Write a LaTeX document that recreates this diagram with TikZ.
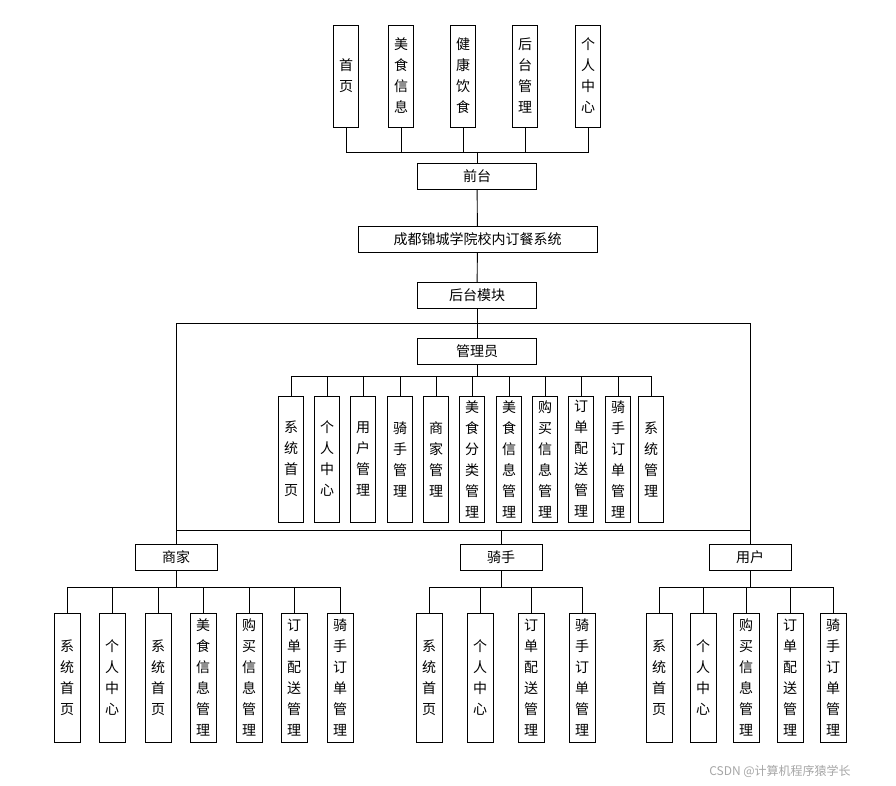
\documentclass[tikz,border=0pt]{standalone}
\usepackage{fontspec}
\setmainfont{Noto Sans CJK SC}
\begin{document}
\begin{tikzpicture}[x=1pt,y=-1pt,
  hb/.style={draw,line width=0.9pt,fill=white,minimum height=26pt,inner sep=0pt,font=\fontsize{14}{16}\selectfont},
  vb/.style={draw,line width=0.9pt,fill=white,minimum width=25pt,inner sep=0pt,align=center,font=\fontsize{14}{21}\selectfont},
  ln/.style={line width=0.9pt}]
\path[fill=white] (0,0) rectangle (896,786);
% top
\foreach \n/\x/\t in {a/346/首\\页,b/401/美\\食\\信\\息,c/463/健\\康\\饮\\食,d/525/后\\台\\管\\理,e/588/个\\人\\中\\心}
  \node[vb,minimum height=102pt] (\n) at (\x,76) {\t};
\node[hb,minimum width=119pt] (qt) at (477,176) {前台};
\coordinate (j1) at (477,152);
\foreach \n in {a,b,c,d,e} \draw[ln] (\n.south) |- (j1);
\draw[ln] (a.south) ++(0,25) -- ++(242,0);
\draw[ln] (j1) -- (qt.north);
\node[hb,minimum width=239pt] (sys) at (477.5,239.5) {成都锦城学院校内订餐系统};
\node[hb,minimum width=119pt] (ht) at (477,295.5) {后台模块};
\draw[ln] (qt) -- (sys); \draw[ln] (sys) -- (ht);
\coordinate (tl) at (176,323); \coordinate (tr) at (750,323);
\coordinate (bl) at (176,530); \coordinate (br) at (750,530);
\draw[ln] (tl) -- (tr); \draw[ln] (ht.south) -- (477,323);
\draw[ln] (tl) -- (bl) -- (br) -- (tr);
\node[hb,minimum width=119pt] (gly) at (477,351) {管理员};
\draw[ln] (477,323) -- (gly.north);
\foreach \n/\x/\t in {g1/291/系\\统\\首\\页,g2/327/个\\人\\中\\心,g3/363/用\\户\\管\\理,g4/400/骑\\手\\管\\理,g5/436/商\\家\\管\\理,g6/472/美\\食\\分\\类\\管\\理,g7/509/美\\食\\信\\息\\管\\理,g8/545/购\\买\\信\\息\\管\\理,g9/581/订\\单\\配\\送\\管\\理,g10/618/骑\\手\\订\\单\\管\\理,g11/651/系\\统\\管\\理}
  {\node[vb,minimum height=126pt] (\n) at (\x,459) {\t};
   \draw[ln] (\n.north) -- (\x,376);}
\draw[ln] (291,376) -- (651,376); \draw[ln] (gly.south) -- (477,376);
\node[hb,minimum width=82pt] (sj) at (176,557) {商家};
\node[hb,minimum width=82pt] (qs) at (501,557) {骑手};
\node[hb,minimum width=82pt] (yh) at (750,557) {用户};
\draw[ln] (bl) -- (sj.north); \draw[ln] (br) -- (yh.north); \draw[ln] (501,530) -- (qs.north);
\foreach \n/\x/\t in {s1/67/系\\统\\首\\页,s2/112/个\\人\\中\\心,s3/158/系\\统\\首\\页,s4/203/美\\食\\信\\息\\管\\理,s5/249/购\\买\\信\\息\\管\\理,s6/294/订\\单\\配\\送\\管\\理,s7/340/骑\\手\\订\\单\\管\\理}
  {\node[vb,minimum height=129pt,minimum width=26pt] (\n) at (\x,677.5) {\t}; \draw[ln] (\n.north) -- (\x,587);}
\draw[ln] (67,587) -- (340,587); \draw[ln] (sj.south) -- (176,587);
\foreach \n/\x/\t in {r1/429/系\\统\\首\\页,r2/480/个\\人\\中\\心,r3/531/订\\单\\配\\送\\管\\理,r4/582/骑\\手\\订\\单\\管\\理}
  {\node[vb,minimum height=129pt,minimum width=26pt] (\n) at (\x,677.5) {\t}; \draw[ln] (\n.north) -- (\x,587);}
\draw[ln] (429,587) -- (582,587); \draw[ln] (qs.south) -- (501,587);
\foreach \n/\x/\t in {u1/659/系\\统\\首\\页,u2/703/个\\人\\中\\心,u3/746/购\\买\\信\\息\\管\\理,u4/790/订\\单\\配\\送\\管\\理,u5/833/骑\\手\\订\\单\\管\\理}
  {\node[vb,minimum height=129pt,minimum width=26pt] (\n) at (\x,677.5) {\t}; \draw[ln] (\n.north) -- (\x,587);}
\draw[ln] (659,587) -- (833,587); \draw[ln] (yh.south) -- (750,587);
\node[text=gray!70,font=\fontsize{12}{14}\selectfont] (wm) at (780,771) {CSDN @计算机程序猿学长};
\end{tikzpicture}
\end{document}
